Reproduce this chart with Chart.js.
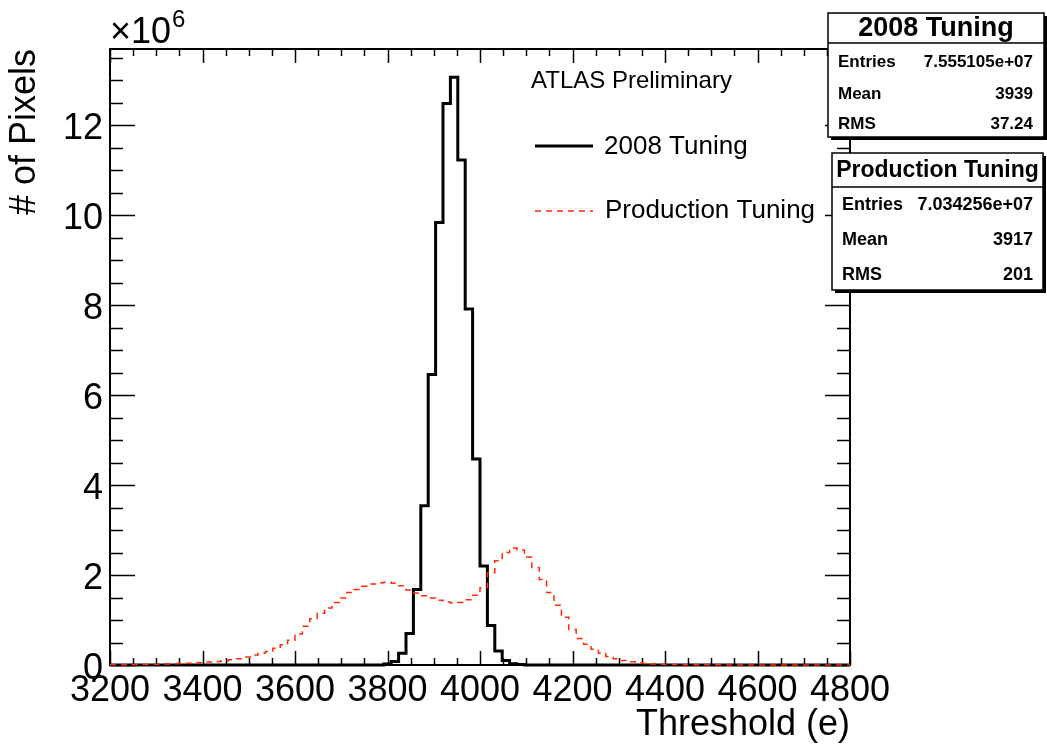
<!DOCTYPE html>
<html>
<head>
<meta charset="utf-8">
<title>Threshold distribution</title>
<script src="https://cdn.jsdelivr.net/npm/chart.js@4.4.0/dist/chart.umd.min.js"></script>
<style>
  html, body { margin: 0; padding: 0; background: #fff; }
</style>
</head>
<body>
<canvas id="c" width="1047" height="751"></canvas>
<script>
// Pixel threshold histograms (100 bins of 16 e from 3200 to 4800), counts in units of 1e6.

const binLow = 3200;
const binWidth = 16;

const tuning2008 = [
  0, 0, 0, 0, 0, 0, 0, 0, 0, 0,
  0, 0, 0, 0, 0, 0, 0, 0, 0, 0,
  0, 0, 0, 0, 0, 0, 0, 0, 0, 0,
  0, 0, 0, 0, 0, 0, 0, 0.02, 0.08, 0.26,
  0.70, 1.68, 3.54, 6.46, 9.84, 12.49, 13.07, 11.23, 7.92, 4.58,
  2.20, 0.88, 0.31, 0.10, 0.03, 0.01, 0, 0, 0, 0,
  0, 0, 0, 0, 0, 0, 0, 0, 0, 0,
  0, 0, 0, 0, 0, 0, 0, 0, 0, 0,
  0, 0, 0, 0, 0, 0, 0, 0, 0, 0,
  0, 0, 0, 0, 0, 0, 0, 0, 0, 0,
];

const productionTuning = [
  0.005, 0.006, 0.008, 0.010, 0.012, 0.015, 0.018, 0.022, 0.026, 0.031,
  0.037, 0.045, 0.055, 0.065, 0.08, 0.095, 0.115, 0.14, 0.18, 0.22,
  0.26, 0.30, 0.37, 0.45, 0.55, 0.69, 0.86, 1.03, 1.15, 1.27,
  1.39, 1.49, 1.61, 1.68, 1.75, 1.80, 1.83, 1.84, 1.82, 1.76,
  1.67, 1.60, 1.54, 1.49, 1.44, 1.40, 1.38, 1.39, 1.45, 1.55,
  1.72, 2.05, 2.32, 2.50, 2.60, 2.56, 2.40, 2.17, 1.90, 1.61,
  1.33, 1.06, 0.79, 0.59, 0.46, 0.35, 0.26, 0.19, 0.14, 0.10,
  0.07, 0.05, 0.035, 0.025, 0.018, 0.013, 0.01, 0.008, 0.006, 0.005,
  0.004, 0.003, 0.003, 0.002, 0.002, 0.002, 0.001, 0.001, 0.001, 0.001,
  0.001, 0.001, 0.001, 0, 0, 0, 0, 0, 0, 0,
];

const xTickValues = [3200, 3400, 3600, 3800, 4000, 4200, 4400, 4600, 4800];
const yTickValues = [0, 2, 4, 6, 8, 10, 12];

const statTitles = ["2008 Tuning", "Production Tuning"];
const statEntries = ["7.555105e+07", "7.034256e+07"];
const statMean = ["3939", "3917"];
const statRms = ["37.24", "201"];

const FONT = "'Liberation Sans', Arial, Helvetica, sans-serif";
Chart.defaults.font.family = FONT;
Chart.defaults.color = "#000";

// histogram as step line: one point per bin low edge, plus the closing upper edge
function histPoints(vals) {
  const pts = vals.map((v, i) => ({ x: binLow + i * binWidth, y: v }));
  pts.push({ x: binLow + vals.length * binWidth, y: vals[vals.length - 1] });
  return pts;
}

// ROOT-like frame with inward ticks on all four sides
const rootFrame = {
  id: "rootFrame",
  beforeDatasetsDraw(chart) {
    const { ctx, chartArea: a, scales } = chart;
    ctx.save();
    ctx.strokeStyle = "#000";
    ctx.lineWidth = 1.5;
    ctx.beginPath();
    for (let v = scales.x.min; v <= scales.x.max; v += 50) {
      const px = Math.round(scales.x.getPixelForValue(v)) + 0.5;
      const len = v % 200 === 0 ? 14 : 7;
      ctx.moveTo(px, a.bottom); ctx.lineTo(px, a.bottom - len);
      ctx.moveTo(px, a.top); ctx.lineTo(px, a.top + len);
    }
    for (let v = 0; v <= scales.y.max; v += 0.5) {
      const py = Math.round(scales.y.getPixelForValue(v)) + 0.5;
      const len = v % 2 === 0 ? 25 : 13;
      ctx.moveTo(a.left, py); ctx.lineTo(a.left + len, py);
      ctx.moveTo(a.right, py); ctx.lineTo(a.right - len, py);
    }
    ctx.stroke();
    ctx.lineWidth = 2;
    ctx.strokeRect(a.left, a.top, a.right - a.left, a.bottom - a.top);
    ctx.restore();
  },
  afterDraw(chart) {
    const { ctx, chartArea: a } = chart;
    ctx.save();
    ctx.fillStyle = "#000";
    ctx.textBaseline = "alphabetic";

    // axis multiplier
    ctx.font = `36px ${FONT}`;
    ctx.fillText("\u00d710", a.left, 43);
    const w = ctx.measureText("\u00d710").width;
    ctx.font = `24px ${FONT}`;
    ctx.fillText("6", a.left + w + 1, 27);

    // in-frame legend
    ctx.font = `24px ${FONT}`;
    ctx.fillText("ATLAS Preliminary", 531, 88);
    const black = chart.data.datasets.find((d) => d.label === "2008 Tuning");
    const red = chart.data.datasets.find((d) => d.label === "Production Tuning");
    ctx.font = `26px ${FONT}`;
    ctx.strokeStyle = black.borderColor;
    ctx.lineWidth = black.borderWidth;
    ctx.beginPath(); ctx.moveTo(535, 146); ctx.lineTo(593, 146); ctx.stroke();
    ctx.fillText(black.label, 604, 154);
    ctx.strokeStyle = red.borderColor;
    ctx.lineWidth = red.borderWidth;
    ctx.setLineDash(red.borderDash);
    ctx.beginPath(); ctx.moveTo(535, 211); ctx.lineTo(593, 211); ctx.stroke();
    ctx.setLineDash([]);
    ctx.fillText(red.label, 605, 218);

    // stat boxes
    drawStatBox(ctx, { x: 828, y: 13, w: 216, h: 124, sep: 30, titleSize: 27, rowSize: 17,
      rowY: [62, 94, 124], lx: 838, rx: 1033 }, 0);
    drawStatBox(ctx, { x: 832, y: 153, w: 211, h: 137, sep: 34, titleSize: 23, rowSize: 18,
      rowY: [205, 240, 275], lx: 842, rx: 1033 }, 1);
    ctx.restore();
  },
};

function drawStatBox(ctx, b, i) {
  ctx.fillStyle = "#000";
  ctx.fillRect(b.x + 3, b.y + 3, b.w, b.h);
  ctx.fillStyle = "#fff";
  ctx.fillRect(b.x, b.y, b.w, b.h);
  ctx.strokeStyle = "#000";
  ctx.lineWidth = 1.5;
  ctx.strokeRect(b.x, b.y, b.w, b.h);
  ctx.beginPath();
  ctx.moveTo(b.x, b.y + b.sep); ctx.lineTo(b.x + b.w, b.y + b.sep);
  ctx.stroke();

  ctx.fillStyle = "#000";
  ctx.textBaseline = "middle";
  ctx.textAlign = "center";
  ctx.font = `bold ${b.titleSize}px ${FONT}`;
  ctx.fillText(statTitles[i], b.x + b.w / 2, b.y + b.sep / 2 + 1);

  const rows = [["Entries", statEntries[i]], ["Mean", statMean[i]], ["RMS", statRms[i]]];
  ctx.font = `bold ${b.rowSize}px ${FONT}`;
  rows.forEach(([k, v], r) => {
    ctx.textAlign = "left";
    ctx.fillText(k, b.lx, b.rowY[r]);
    ctx.textAlign = "right";
    ctx.fillText(v, b.rx, b.rowY[r]);
  });
  ctx.textAlign = "left";
  ctx.textBaseline = "alphabetic";
}

new Chart(document.getElementById("c"), {
  type: "line",
  data: {
    datasets: [
      {
        label: "Production Tuning",
        data: histPoints(productionTuning),
        borderColor: "#ff2a0a",
        borderWidth: 1.5,
        borderDash: [6, 5],
        stepped: true,
        pointRadius: 0,
        fill: false,
        clip: 8,
        order: 0,
      },
      {
        label: "2008 Tuning",
        data: histPoints(tuning2008),
        borderColor: "#000",
        borderWidth: 3,
        borderJoinStyle: "miter",
        stepped: true,
        pointRadius: 0,
        fill: false,
        clip: 8,
        order: 1,
      },
    ],
  },
  options: {
    responsive: false,
    animation: false,
    events: [],
    layout: { padding: { top: 49, right: 197, left: 0, bottom: 0 } },
    plugins: { legend: { display: false }, tooltip: { enabled: false } },
    scales: {
      x: {
        type: "linear",
        min: 3200,
        max: 4800,
        grid: { display: false, drawTicks: false },
        border: { display: false },
        afterBuildTicks: (s) => { s.ticks = xTickValues.map((v) => ({ value: v })); },
        afterFit: (s) => { s.height = 86; },
        ticks: {
          autoSkip: false,
          maxRotation: 0,
          padding: 4,
          font: { size: 36 },
          callback: (v) => String(v),
        },
        title: {
          display: true,
          text: "Threshold (e)",
          align: "end",
          font: { size: 36 },
          padding: { top: 0, bottom: 4 },
        },
      },
      y: {
        min: 0,
        max: 13.7,
        grid: { display: false, drawTicks: false },
        border: { display: false },
        afterBuildTicks: (s) => { s.ticks = yTickValues.map((v) => ({ value: v })); },
        afterFit: (s) => { s.width = 110; },
        ticks: {
          padding: 7,
          labelOffset: 4,
          font: { size: 36 },
          callback: (v) => String(v),
        },
        title: {
          display: true,
          text: "# of Pixels",
          align: "end",
          font: { size: 36 },
          padding: { top: 3, bottom: 0 },
        },
      },
    },
  },
  plugins: [rootFrame],
});
</script>
</body>
</html>
